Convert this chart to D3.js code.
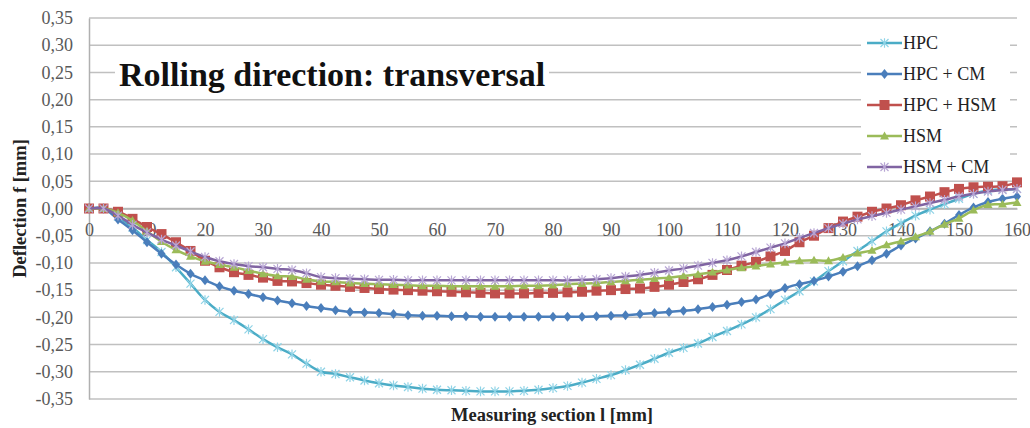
<!DOCTYPE html>
<html lang="en">
<head>
<meta charset="utf-8">
<script src="https://d3js.org/d3.v7.min.js"></script>
<style>
    body { margin: 0; background: #fff; }
</style>
</head>
<body>
<div id="chart"></div>
<script>
    // measuring positions l [mm], one reading every 2.5 mm
    const positions = d3.range(0, 160.01, 2.5);

    const seriesNames = ['HPC', 'HPC + CM', 'HPC + HSM', 'HSM', 'HSM + CM'];

    const hpc = [0, 0, -0.015, -0.035, -0.058, -0.08, -0.108, -0.138, -0.168, -0.19,
        -0.205, -0.222, -0.24, -0.255, -0.268, -0.285, -0.3, -0.304, -0.31, -0.316,
        -0.321, -0.325, -0.328, -0.331, -0.333, -0.334, -0.335, -0.336, -0.336, -0.336,
        -0.335, -0.333, -0.33, -0.326, -0.32, -0.313, -0.306, -0.297, -0.287, -0.276,
        -0.265, -0.256, -0.248, -0.236, -0.225, -0.213, -0.2, -0.185, -0.168, -0.152,
        -0.134, -0.115, -0.097, -0.078, -0.06, -0.042, -0.027, -0.013, -0.002, 0.008,
        0.018, 0.027, 0.033, 0.035, 0.036];

    const hpcCm = [0, 0, -0.02, -0.04, -0.062, -0.083, -0.103, -0.12, -0.132, -0.143,
        -0.151, -0.157, -0.163, -0.169, -0.174, -0.179, -0.183, -0.187, -0.19, -0.191,
        -0.192, -0.194, -0.196, -0.197, -0.197, -0.198, -0.198, -0.199, -0.199, -0.199,
        -0.199, -0.199, -0.199, -0.199, -0.199, -0.198, -0.197, -0.196, -0.194, -0.192,
        -0.19, -0.188, -0.185, -0.181, -0.177, -0.172, -0.167, -0.157, -0.146, -0.139,
        -0.133, -0.125, -0.116, -0.106, -0.095, -0.083, -0.068, -0.055, -0.042, -0.028,
        -0.012, 0.002, 0.012, 0.018, 0.022];

    const hpcHsm = [0, 0, -0.006, -0.019, -0.034, -0.047, -0.062, -0.078, -0.096, -0.108,
        -0.117, -0.122, -0.127, -0.133, -0.134, -0.137, -0.14, -0.142, -0.144, -0.146,
        -0.148, -0.149, -0.15, -0.151, -0.152, -0.153, -0.154, -0.155, -0.156, -0.156,
        -0.156, -0.155, -0.155, -0.154, -0.153, -0.151, -0.15, -0.148, -0.147, -0.144,
        -0.14, -0.135, -0.13, -0.122, -0.113, -0.105, -0.098, -0.088, -0.078, -0.062,
        -0.05, -0.036, -0.024, -0.015, -0.006, 0, 0.006, 0.015, 0.022, 0.03,
        0.036, 0.039, 0.04, 0.041, 0.048];

    const hsm = [0, 0, -0.008, -0.022, -0.042, -0.061, -0.076, -0.088, -0.097, -0.103,
        -0.108, -0.114, -0.12, -0.124, -0.125, -0.13, -0.134, -0.135, -0.137, -0.138,
        -0.139, -0.14, -0.141, -0.142, -0.142, -0.143, -0.143, -0.143, -0.143, -0.143,
        -0.142, -0.142, -0.141, -0.139, -0.138, -0.137, -0.135, -0.133, -0.131, -0.129,
        -0.127, -0.124, -0.121, -0.117, -0.113, -0.109, -0.106, -0.102, -0.099, -0.096,
        -0.095, -0.096, -0.09, -0.082, -0.077, -0.067, -0.06, -0.052, -0.042, -0.029,
        -0.018, -0.003, 0.007, 0.008, 0.011];

    const hsmCm = [0, 0, -0.013, -0.03, -0.044, -0.057, -0.068, -0.079, -0.089, -0.097,
        -0.102, -0.106, -0.108, -0.111, -0.113, -0.119, -0.126, -0.128, -0.129, -0.13,
        -0.131, -0.131, -0.132, -0.132, -0.132, -0.132, -0.132, -0.132, -0.132, -0.132,
        -0.132, -0.132, -0.132, -0.132, -0.131, -0.13, -0.128, -0.125, -0.122, -0.118,
        -0.114, -0.11, -0.105, -0.1, -0.095, -0.088, -0.08, -0.072, -0.064, -0.054,
        -0.045, -0.036, -0.028, -0.02, -0.014, -0.008, -0.002, 0.004, 0.01, 0.016,
        0.022, 0.027, 0.031, 0.034, 0.036];

    const xTicks = d3.range(0, 161, 10);
    const yTicks = d3.range(-0.35, 0.351, 0.05);

    const couleurs = ['#4bacc6', '#4a7ebb', '#c0504d', '#9bbb59', '#8064a2'];
    const marqueurs = ['asterisk', 'diamond', 'square', 'triangle', 'asterisk'];
    const valeurs = [hpc, hpcCm, hpcHsm, hsm, hsmCm];

    const police = '"Liberation Serif", "Times New Roman", "DejaVu Serif", serif';
    const largeur = 1030, hauteur = 428;
    const x = d3.scaleLinear().domain([0, 160]).range([89, 1017]);
    const y = d3.scaleLinear().domain([-0.35, 0.35]).range([399, 18]);

    const fr = d3.formatLocale({ decimal: ',', thousands: ' ', grouping: [3], currency: ['', ''], minus: '-' });
    const fmt = fr.format('.2f');

    const svg = d3.select('#chart').append('svg')
        .attr('width', largeur)
        .attr('height', hauteur)
        .style('font-family', police);

    // horizontal gridlines
    svg.append('g')
        .selectAll('line')
        .data(yTicks)
        .join('line')
        .attr('x1', x(0)).attr('x2', x(160))
        .attr('y1', d => y(d)).attr('y2', d => y(d))
        .attr('stroke', '#c0c0c0')
        .attr('stroke-width', 1.5);

    // vertical axis
    const axeY = svg.append('g')
        .attr('transform', `translate(${x(0)},0)`)
        .call(d3.axisLeft(y).tickValues(yTicks).tickFormat(fmt).tickSize(0).tickPadding(16));
    axeY.attr('font-family', null);
    axeY.select('.domain').attr('stroke', '#b0b0b0').attr('stroke-width', 1.5);
    axeY.selectAll('text').attr('font-size', 18).attr('fill', '#595959')
        .style('font-family', police);

    // horizontal axis, crossing at 0
    const axeX = svg.append('g')
        .attr('transform', `translate(0,${y(0)})`)
        .call(d3.axisBottom(x).tickValues(xTicks).tickFormat(d3.format('d')).tickSize(0).tickPadding(15));
    axeX.attr('font-family', null);
    axeX.select('.domain').attr('stroke', '#b0b0b0').attr('stroke-width', 1.5);
    axeX.selectAll('text').attr('font-size', 18).attr('fill', '#595959')
        .style('font-family', police);

    // title with its white box
    svg.append('rect')
        .attr('x', 115).attr('y', 57).attr('width', 434).attr('height', 36)
        .attr('fill', '#fff');
    svg.append('text')
        .attr('x', 119).attr('y', 86)
        .attr('font-size', 34).attr('font-weight', 'bold').attr('fill', '#111')
        .style('font-family', police)
        .text('Rolling direction: transversal');

    function marqueur(type, taille) {
        const r = taille / 2;
        if (type === 'asterisk') {
            return `M${-r},${-r}L${r},${r}M${-r},${r}L${r},${-r}M0,${-r * 1.2}L0,${r * 1.2}`;
        }
        if (type === 'diamond') {
            return `M0,${-r}L${r * 0.8},0L0,${r}L${-r * 0.8},0Z`;
        }
        if (type === 'square') {
            return `M${-r},${-r}H${r}V${r}H${-r}Z`;
        }
        return `M0,${-r}L${r},${r * 0.75}L${-r},${r * 0.75}Z`;
    }
    const tailles = [8, 10, 10, 9, 8];

    function dessineMarqueur(g, i, px, py) {
        const p = g.append('path')
            .attr('d', marqueur(marqueurs[i], tailles[i]))
            .attr('transform', `translate(${px},${py})`);
        if (marqueurs[i] === 'asterisk') {
            p.attr('fill', 'none')
                .attr('stroke', i === 0 ? '#8fd3e6' : '#b8a6d4')
                .attr('stroke-width', 1.2);
        } else {
            p.attr('fill', couleurs[i]);
        }
    }

    const ligne = d3.line()
        .x(d => x(d[0]))
        .y(d => y(d[1]))
        .curve(d3.curveCatmullRom.alpha(0.5));

    valeurs.forEach((serie, i) => {
        const pts = positions.map((l, k) => [l, serie[k]]);
        const g = svg.append('g').attr('class', 'serie');
        g.append('path')
            .attr('d', ligne(pts))
            .attr('fill', 'none')
            .attr('stroke', couleurs[i])
            .attr('stroke-width', 2.5);
        pts.forEach(p => dessineMarqueur(g, i, x(p[0]), y(p[1])));
    });

    // legend
    const legende = svg.append('g');
    legende.append('rect')
        .attr('x', 861).attr('y', 26).attr('width', 149).attr('height', 154)
        .attr('fill', '#fff');
    seriesNames.forEach((nom, i) => {
        const ly = 43 + i * 31;
        const g = legende.append('g');
        g.append('line')
            .attr('x1', 867).attr('x2', 902)
            .attr('y1', ly).attr('y2', ly)
            .attr('stroke', couleurs[i]).attr('stroke-width', 2.5);
        dessineMarqueur(g, i, 884.5, ly);
        g.append('text')
            .attr('x', 903).attr('y', ly + 6)
            .attr('font-size', 18).attr('fill', '#222')
            .style('font-family', police)
            .text(nom);
    });

    // axis titles
    svg.append('text')
        .attr('transform', `translate(26,${y(0)}) rotate(-90)`)
        .attr('text-anchor', 'middle')
        .attr('font-size', 18.5).attr('font-weight', 'bold').attr('fill', '#222')
        .style('font-family', police)
        .text('Deflection f [mm]');
    svg.append('text')
        .attr('x', 552).attr('y', 421)
        .attr('text-anchor', 'middle')
        .attr('font-size', 18.5).attr('font-weight', 'bold').attr('fill', '#222')
        .style('font-family', police)
        .text('Measuring section l [mm]');
</script>
</body>
</html>
